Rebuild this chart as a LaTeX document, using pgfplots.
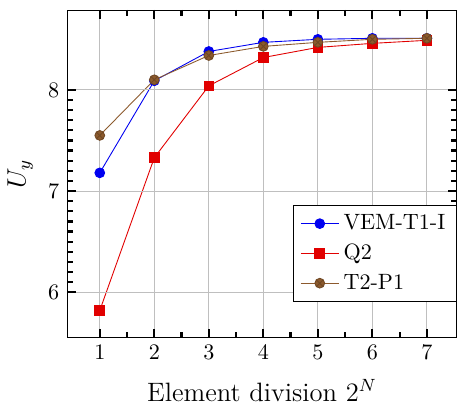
\documentclass[border=0pt]{standalone}
\usepackage{pgfplots}
\pgfplotsset{compat=1.18}
\definecolor{cblue}{RGB}{0,0,240}
\definecolor{cred}{RGB}{225,0,0}
\definecolor{cbrown}{RGB}{140,90,45}
\begin{document}
\begin{tikzpicture}
\begin{axis}[
  scale only axis, width=176pt, height=148pt,
  xmin=0.4, xmax=7.55, ymin=5.55, ymax=8.79,
  xtick={1,2,3,4,5,6,7}, ytick={6,7,8},
  minor x tick num=1, minor y tick num=9,
  tick align=inside, tick pos=both,
  major tick length=4pt, minor tick length=2.7pt,
  tick style={color=black, line width=1pt},
  xmajorgrids, ymajorgrids,
  axis on top,
  tick label style={font=\normalsize},
  xlabel={\large Element division $2^N$},
  ylabel={\large $U_y$},
  xlabel style={yshift=-2pt},
  legend style={at={(1,0.11)}, anchor=south east, cells={anchor=west}, row sep=1pt},
  legend cell align=left,
]
\addplot[color=cblue, mark=*, mark size=2.2pt, mark options={fill=cblue, draw=cblue}] coordinates {
(1,7.18) (2,8.09) (3,8.38) (4,8.47) (5,8.50) (6,8.51) (7,8.51)};
\addlegendentry{VEM-T1-I}
\addplot[color=cred, mark=square*, mark size=2.2pt, mark options={fill=cred, draw=cred}] coordinates {
(1,5.82) (2,7.33) (3,8.04) (4,8.32) (5,8.42) (6,8.46) (7,8.49)};
\addlegendentry{Q2}
\addplot[color=cbrown, mark=otimes*, mark size=2.2pt, mark options={fill=cbrown, draw=cbrown!80!black}] coordinates {
(1,7.55) (2,8.10) (3,8.34) (4,8.43) (5,8.47) (6,8.50) (7,8.51)};
\addlegendentry{T2-P1}
\end{axis}
\path ([yshift=4.5pt]current axis.north);
\end{tikzpicture}
\end{document}
